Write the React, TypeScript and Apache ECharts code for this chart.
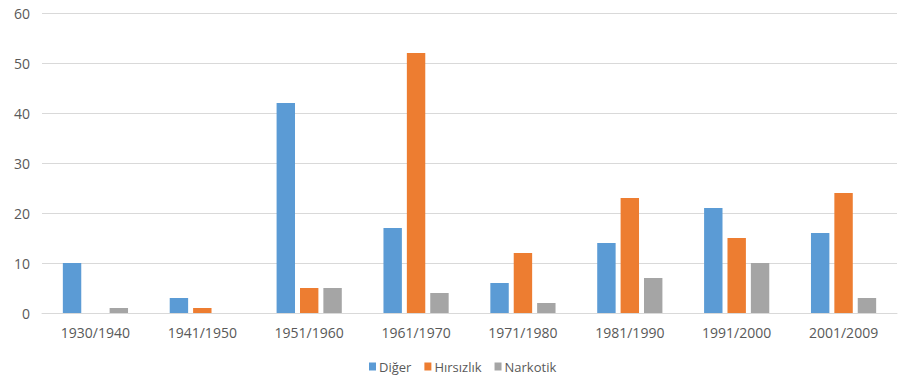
import React, { useEffect, useRef } from "react";
import * as echarts from "echarts";

const categories = ["1930/1940", "1941/1950", "1951/1960", "1961/1970", "1971/1980", "1981/1990", "1991/2000", "2001/2009"];
const diger = [10, 3, 42, 17, 6, 14, 21, 16];
const hirsizlik = [0, 1, 5, 52, 12, 23, 15, 24];
const narkotik = [1, 0, 5, 4, 2, 7, 10, 3];
const seriesNames = ["Diğer", "Hırsızlık", "Narkotik"];
const colors = ["#5B9BD5", "#ED7D31", "#A5A5A5"];

export default function App() {
  const ref = useRef<HTMLDivElement>(null);
  useEffect(() => {
    if (!ref.current) return;
    document.body.style.margin = "0";
    const chart = echarts.init(ref.current, null, { renderer: "svg" });
    const font = "'Open Sans', sans-serif";
    const mk = (name: string, data: number[], color: string) => ({
      name,
      type: "bar",
      data,
      barGap: "27%",
      barCategoryGap: "39%",
      itemStyle: { color },
    });
    chart.setOption({
      animation: false,
      grid: { left: 42, right: 7, top: 13, bottom: 68 },
      legend: {
        data: seriesNames,
        top: 355,
        left: 364,
        icon: "rect",
        itemWidth: 7,
        itemHeight: 8,
        itemGap: 13,
        textStyle: { fontFamily: font, fontSize: 13, color: "#595959", padding: [0, 0, 0, -2] },
      },
      xAxis: {
        type: "category",
        data: categories,
        axisLine: { show: true, lineStyle: { color: "#d9d9d9", width: 1 } },
        axisTick: { show: false },
        axisLabel: { fontFamily: font, fontSize: 14, color: "#595959", margin: 12 },
      },
      yAxis: {
        type: "value",
        min: 0,
        max: 60,
        interval: 10,
        axisLine: { show: false },
        axisTick: { show: false },
        splitLine: { lineStyle: { color: "#d9d9d9", width: 1 } },
        axisLabel: { fontFamily: font, fontSize: 14, color: "#595959", margin: 12 },
      },
      series: [
        mk(seriesNames[0], diger, colors[0]),
        mk(seriesNames[1], hirsizlik, colors[1]),
        mk(seriesNames[2], narkotik, colors[2]),
      ],
    });
    return () => chart.dispose();
  }, []);
  return <div ref={ref} style={{ width: 904, height: 381 }} />;
}
